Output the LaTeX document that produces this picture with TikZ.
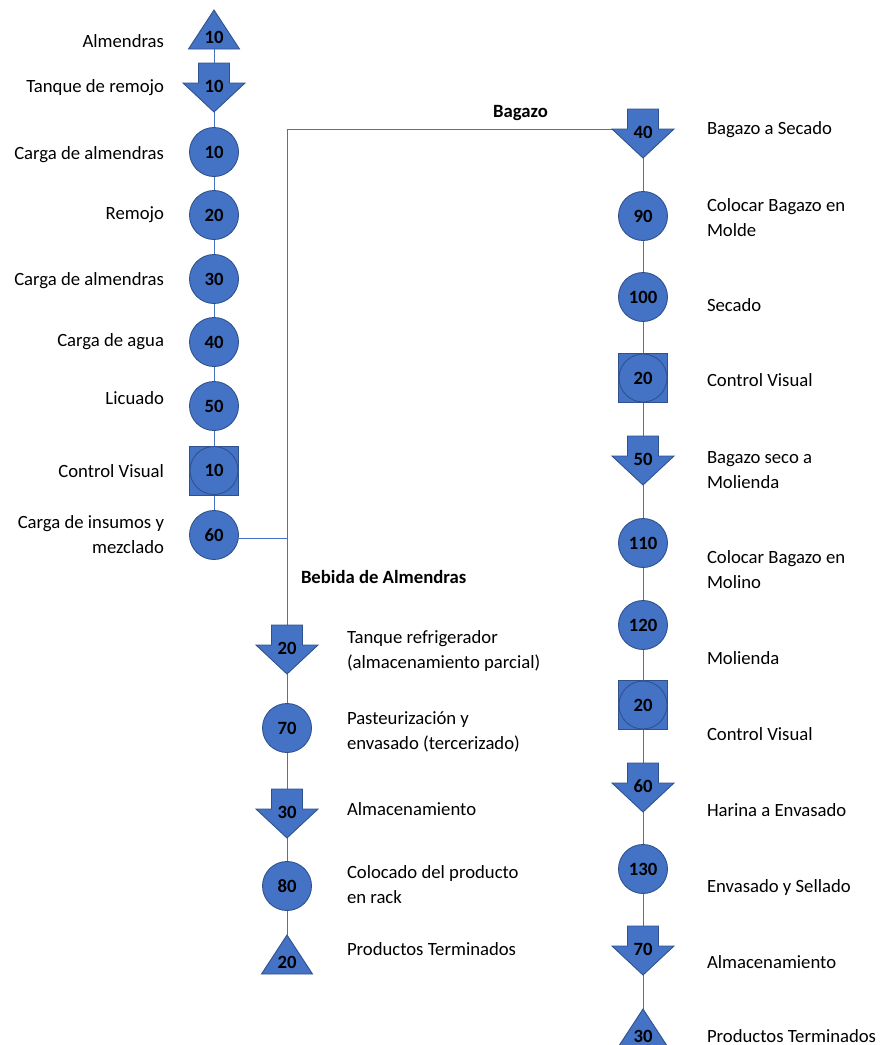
\documentclass[tikz,border=0pt]{standalone}
\usepackage{fontspec}
\setmainfont{Carlito}
\pgfdeclarelayer{lines}
\pgfdeclarelayer{shapes}
\pgfsetlayers{lines,shapes,main}
\definecolor{boxfill}{RGB}{68,114,196}
\definecolor{boxline}{RGB}{47,82,143}
\definecolor{linkcol}{RGB}{68,114,196}
\newcommand\LabStrut{\rule{0pt}{14pt}}
\tikzset{
  every node/.style={font=\fontsize{18.7}{24.5}\selectfont, inner sep=0pt, outer sep=0pt},
  num/.style={font=\fontsize{18.7}{24.5}\selectfont\bfseries, text height=12pt, text depth=0pt},
  opcircle/.style={num, circle, minimum size=49pt, fill=boxfill, draw=boxline, line width=0.9pt},
  inspect/.style={num, rectangle, minimum size=49pt, fill=boxfill, draw=boxline, line width=0.9pt,
    path picture={\draw[boxline, line width=0.9pt] (path picture bounding box.center) circle (24pt);}},
  arrowbox/.style={num, minimum width=62pt, minimum height=49pt, text depth=3pt},
  tribox/.style={num, minimum width=51pt, minimum height=39pt, text height=32pt, text depth=4pt},
  shapefill/.style={fill=boxfill, draw=boxline, line width=0.9pt},
  conn/.style={draw=linkcol, line width=1pt},
  lblL/.style={anchor=north east, align=right, yshift=-2pt},
  lblR/.style={anchor=north west, align=left, yshift=-2pt},
  headtext/.style={font=\fontsize{18.7}{24.5}\selectfont\bfseries, text height=13pt, text depth=4pt, yshift=-2pt}
}
\newcommand\MoveArrow[3]{%
  \node[arrowbox] (#1) at (#2) {#3};
  \begin{pgfonlayer}{shapes}
    \path[shapefill] ([xshift=-15.5pt]#1.north) -- ([xshift=15.5pt]#1.north)
      -- ([xshift=15.5pt,yshift=-20pt]#1.north) -- ([yshift=-20pt]#1.north east)
      -- (#1.south) -- ([yshift=-20pt]#1.north west)
      -- ([xshift=-15.5pt,yshift=-20pt]#1.north) -- cycle;
  \end{pgfonlayer}}
\newcommand\StoreTri[3]{%
  \node[tribox] (#1) at (#2) {#3};
  \begin{pgfonlayer}{shapes}
    \path[shapefill] (#1.north) -- (#1.south east) -- (#1.south west) -- cycle;
  \end{pgfonlayer}}
\begin{document}
\begin{tikzpicture}[x=1pt, y=-1pt]
\useasboundingbox (0,0) rectangle (882,1045);

% left column
\StoreTri{T10}{214,29.5}{10}
\MoveArrow{A10}{214,87.5}{10}
\node[opcircle] (L10) at (214,152) {10};
\node[opcircle] (L20) at (214,215) {20};
\node[opcircle] (L30) at (214,279) {30};
\node[opcircle] (L40) at (214,342) {40};
\node[opcircle] (L50) at (214,406) {50};
\node[inspect] (LI10) at (214,470.5) {10};
\node[opcircle] (L60) at (214,535) {60};

% middle column
\MoveArrow{A20}{287,649.5}{20}
\node[opcircle] (M70) at (287,728) {70};
\MoveArrow{A30}{287,813.5}{30}
\node[opcircle] (M80) at (287,886) {80};
\StoreTri{T20}{287,954.5}{20}

% right column
\MoveArrow{A40}{643,133.5}{40}
\node[opcircle] (R90) at (643,216) {90};
\node[opcircle] (R100) at (643,297) {100};
\node[inspect] (RI20a) at (643,378) {20};
\MoveArrow{A50}{643,460.5}{50}
\node[opcircle] (R110) at (643,543) {110};
\node[opcircle] (R120) at (643,625) {120};
\node[inspect] (RI20b) at (643,705) {20};
\MoveArrow{A60}{643,787.5}{60}
\node[opcircle] (R130) at (643,869) {130};
\MoveArrow{A70}{643,950.5}{70}
\StoreTri{T30}{643,1028.5}{30}

% left labels
\node[lblL] (tA) at (164,31.5) {\LabStrut Almendras};
\node[lblL] (tB) at (164,76.5) {\LabStrut Tanque de remojo};
\node[lblL] (tC) at (164,143.5) {\LabStrut Carga de almendras};
\node[lblL] (tD) at (164,203.5) {\LabStrut Remojo};
\node[lblL] (tE) at (164,269.5) {\LabStrut Carga de almendras};
\node[lblL] (tF) at (164,330) {\LabStrut Carga de agua};
\node[lblL] (tG) at (164,388.5) {\LabStrut Licuado};
\node[lblL] (tH) at (164,461.5) {\LabStrut Control Visual};
\node[lblL] (tI) at (164,512.5) {\LabStrut Carga de insumos y\\mezclado};

% middle labels
\node[lblR] (mA) at (347,627.5) {\LabStrut Tanque refrigerador\\(almacenamiento parcial)};
\node[lblR] (mB) at (347,708.5) {\LabStrut Pasteurización y\\envasado (tercerizado)};
\node[lblR] (mC) at (347,799.5) {\LabStrut Almacenamiento};
\node[lblR] (mD) at (347,862.5) {\LabStrut Colocado del producto\\en rack};
\node[lblR] (mE) at (347,939.5) {\LabStrut Productos Terminados};

% right labels
\node[lblR] (rA) at (707,118.5) {\LabStrut Bagazo a Secado};
\node[lblR] (rB) at (707,195.5) {\LabStrut Colocar Bagazo en\\Molde};
\node[lblR] (rC) at (707,295.5) {\LabStrut Secado};
\node[lblR] (rD) at (707,370.5) {\LabStrut Control Visual};
\node[lblR] (rE) at (707,447.5) {\LabStrut Bagazo seco a\\Molienda};
\node[lblR] (rF) at (707,547.5) {\LabStrut Colocar Bagazo en\\Molino};
\node[lblR] (rG) at (707,648.5) {\LabStrut Molienda};
\node[lblR] (rH) at (707,724.5) {\LabStrut Control Visual};
\node[lblR] (rI) at (707,800.5) {\LabStrut Harina a Envasado};
\node[lblR] (rJ) at (707,876.5) {\LabStrut Envasado y Sellado};
\node[lblR] (rK) at (707,952.5) {\LabStrut Almacenamiento};
\node[lblR] (rL) at (707,1026.5) {\LabStrut Productos Terminados};

% branch headings
\node[headtext] (hBag) at (520.5,111) {Bagazo};
\node[headtext, anchor=west] (hBeb) at (301,577) {Bebida de Almendras};

% connectors
\coordinate (L60r) at ([yshift=-3pt]L60.east);
\coordinate (J) at (L60r -| A20.north);
\coordinate (A40h) at ([yshift=-20pt]A40.north west);
\begin{pgfonlayer}{lines}
  \draw[conn] (T10) -- (A10) -- (L10) -- (L20) -- (L30) -- (L40) -- (L50) -- (LI10) -- (L60);
  \draw[conn] (L60r) -- (J) -- (A20.north);
  \draw[conn] (J) |- (A40h);
  \draw[conn] (A20) -- (M70) -- (A30) -- (M80) -- (T20);
  \draw[conn] (A40) -- (R90) -- (R100) -- (RI20a) -- (A50) -- (R110) -- (R120) -- (RI20b) -- (A60) -- (R130) -- (A70) -- (T30);
\end{pgfonlayer}
\end{tikzpicture}
\end{document}
